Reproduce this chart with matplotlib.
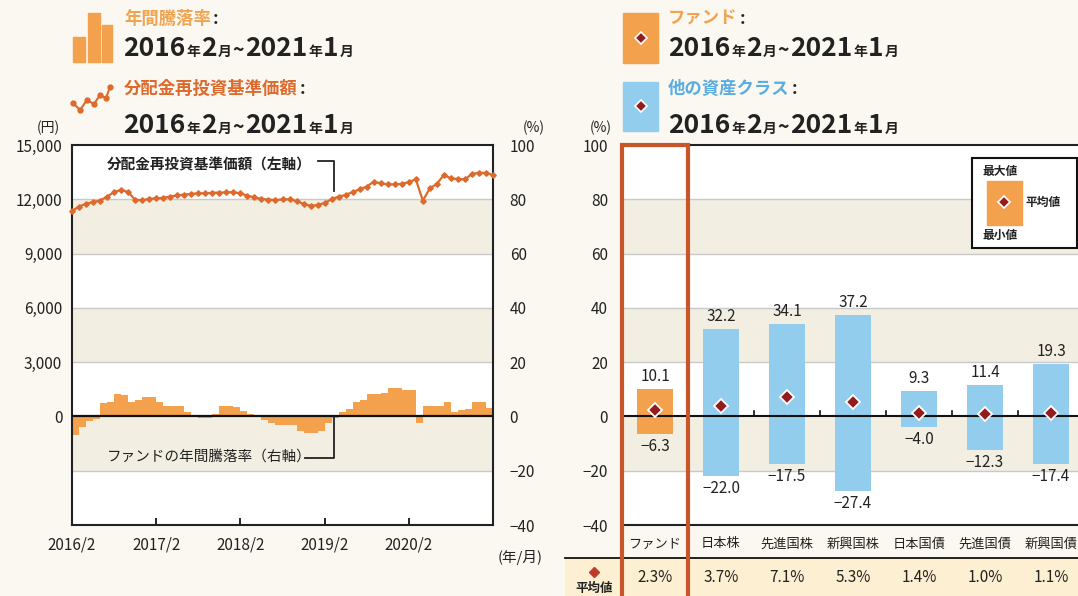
import matplotlib
matplotlib.use("Agg")
import matplotlib.pyplot as plt
from matplotlib.patches import Rectangle
from matplotlib.lines import Line2D
import numpy as np

plt.rcParams['font.family'] = ['Noto Sans CJK JP', 'DejaVu Sans']
plt.rcParams['axes.unicode_minus'] = True

# ---------------- data ----------------
# Left chart: monthly NAV (yen), 2016/1 end .. 2021/1
nav = [11350, 11600, 11750, 11850, 11930, 12150, 12400, 12520, 12400, 11970,
       11950, 12020, 12050, 12080, 12150, 12220, 12260, 12300, 12330, 12330,
       12360, 12370, 12380, 12400, 12320, 12200, 12100, 12020, 11980, 11960,
       11990, 12000, 11900, 11750, 11640, 11680, 11800, 12000, 12150, 12240,
       12400, 12550, 12700, 12970, 12880, 12830, 12820, 12850, 12950, 13100,
       11930, 12600, 12850, 13350, 13150, 13120, 13100, 13400, 13470, 13450,
       13350]
# Annual return of fund (%), monthly 2016/2 .. 2021/1
annual_ret = [-6.8, -4.0, -1.5, -0.8, 4.8, 5.2, 8.3, 7.8, 5.5, 6.2,
              7.3, 7.3, 5.5, 4.0, 4.0, 3.9, 1.8, 0.5, -0.5, -0.5,
              1.0, 4.0, 4.0, 3.5, 2.0, 1.0, 0.4, -1.2, -2.5, -3.1,
              -3.2, -3.2, -5.2, -6.2, -6.2, -5.5, -2.5, -0.6, 1.8, 2.7,
              5.2, 6.2, 8.3, 8.3, 8.5, 10.4, 10.4, 9.8, 9.8, -2.5,
              4.0, 4.0, 4.0, 5.5, 1.8, 2.5, 2.8, 5.5, 5.5, 3.0]
x_tick_labels = ["2016/2", "2017/2", "2018/2", "2019/2", "2020/2"]

# Right chart: asset classes
categories = ["ファンド", "日本株", "先進国株", "新興国株", "日本国債", "先進国債", "新興国債"]
max_vals = [10.1, 32.2, 34.1, 37.2, 9.3, 11.4, 19.3]
min_vals = [-6.3, -22.0, -17.5, -27.4, -4.0, -12.3, -17.4]
mean_vals = [2.3, 3.7, 7.1, 5.3, 1.4, 1.0, 1.1]

# ---------------- style ----------------
W, H = 1078, 596
BG = "#faf8f1"
BAND = "#f2efe2"
ORANGE = "#f3a14c"
BLUE = "#93cdee"
LINE_C = "#dd6a2c"
DIAM = "#941b1e"
FRAME = "#c9562a"
TXT = "#222222"
GRID = "#c9c9c9"

fig = plt.figure(figsize=(W / 100, H / 100), dpi=100, facecolor=BG)
renderer = fig.canvas.get_renderer()


def fx(x):
    return x / W


def fy(y):
    return 1 - y / H


def frect(x0, y0, x1, y1, **kw):
    r = Rectangle((fx(x0), fy(y1)), fx(x1) - fx(x0), fy(y0) - fy(y1),
                  transform=fig.transFigure, **kw)
    fig.patches.append(r)
    return r


def ftext(x, y, s, **kw):
    return fig.text(fx(x), fy(y), s, **kw)


def label_colon(x, y, s, color):
    t = ftext(x, y, s, fontsize=12.5, fontweight='bold', color=color,
              ha='left', va='center')
    bb = t.get_window_extent(renderer)
    ftext(x + bb.width + 2, y, ":", fontsize=12.5, fontweight='bold', color=TXT,
          ha='left', va='center')


def date_text(x, y_base):
    pieces = [("2016", 19), ("年", 10), ("2", 19), ("月", 10), ("~", 14),
              ("2021", 19), ("年", 10), ("1", 19), ("月", 10)]
    cx = x
    for s, size in pieces:
        t = ftext(cx, y_base, s, fontsize=size, fontweight='bold', color=TXT,
                  ha='left', va='baseline')
        bb = t.get_window_extent(renderer)
        cx += bb.width + 1


# ---------------- header (left) ----------------
frect(73, 37, 85, 62, color=ORANGE)
frect(88, 13, 100, 62, color=ORANGE)
frect(102, 25, 112, 62, color=ORANGE)
label_colon(124, 19, "年間騰落率", "#f0a451")
date_text(123, 56)

icon_x = [73, 80, 87, 94, 100, 106, 110]
icon_y = [103, 110, 100, 104, 95, 98, 87]
fig.lines.append(Line2D([fx(v) for v in icon_x], [fy(v) for v in icon_y],
                        transform=fig.transFigure, color=LINE_C, lw=1.5,
                        marker='o', markersize=3.5))
label_colon(124, 89, "分配金再投資基準価額", LINE_C)
date_text(123, 133)

# ---------------- header (right) ----------------
frect(623, 13, 658, 63, color=ORANGE)
fig.lines.append(Line2D([fx(640.5)], [fy(38)], transform=fig.transFigure,
                        marker='D', markersize=6.5, color=DIAM,
                        markeredgecolor='white', markeredgewidth=1.2))
label_colon(668, 19, "ファンド", "#f0a451")
date_text(668, 56)

frect(623, 82, 658, 131, color=BLUE)
fig.lines.append(Line2D([fx(640.5)], [fy(106)], transform=fig.transFigure,
                        marker='D', markersize=6.5, color=DIAM,
                        markeredgecolor='white', markeredgewidth=1.2))
label_colon(668, 89, "他の資産クラス", "#59ade2")
date_text(668, 133)

# ---------------- left chart ----------------
ax2 = fig.add_axes([fx(72), fy(525), fx(493) - fx(72), fy(145) - fy(525)])
ax2.set_facecolor('white')
ax2.set_ylim(-40, 100)
ax2.set_xlim(0, len(annual_ret))
for lo, hi in [(60, 80), (20, 40), (-20, 0)]:
    ax2.axhspan(lo, hi, color=BAND, lw=0, zorder=0)
for v in [80, 60, 40, 20, -20]:
    ax2.axhline(v, color=GRID, lw=1, zorder=0.5)
ax2.set_xticks([0, 12, 24, 36, 48])
ax2.set_xticklabels(x_tick_labels, fontsize=11, color=TXT)
ax2.tick_params(axis='x', direction='in', length=5, width=1.2, pad=8)
for s in ax2.spines.values():
    s.set_color('#222222')
    s.set_linewidth(1.5)
xs = np.arange(len(annual_ret)) + 0.5
ax2.bar(xs, annual_ret, width=1.0, color=ORANGE, lw=0, zorder=2)
ax2.axhline(0, color='#111111', lw=1.6, zorder=3)

ax = ax2.twinx()
# percent axis (ax2) on the right, yen axis (ax) on the left
ax2.yaxis.tick_right()
ax2.yaxis.set_label_position('right')
ax2.set_yticks(range(-40, 101, 20))
ax2.set_yticklabels([str(v).replace('-', '\u2212') for v in range(-40, 101, 20)],
                    fontsize=11, color=TXT)
ax2.tick_params(axis='y', length=0, pad=12)
ax.yaxis.tick_left()
ax.yaxis.set_label_position('left')
ax.set_ylim(-6000, 15000)
ax.set_yticks(range(0, 15001, 3000))
ax.set_yticklabels([f"{v:,}" for v in range(0, 15001, 3000)], fontsize=11, color=TXT)
ax.tick_params(axis='y', length=0, pad=7)
for s in ax.spines.values():
    s.set_visible(False)
xn = np.arange(len(nav)) * (len(annual_ret) / (len(nav) - 1))
ax.plot(xn, nav, color=LINE_C, lw=1.6, marker='D', markersize=2.8, zorder=4,
        clip_on=False)

ax2.text(1.01, -0.085, "(年/月)", transform=ax2.transAxes, fontsize=10.5, color=TXT,
         ha='left', va='center')
ftext(48, 128, "(円)", fontsize=10, color=TXT, ha='center', va='center')
ftext(534, 128, "(%)", fontsize=10, color=TXT, ha='center', va='center')

# annotations (left chart)
ftext(107, 164, "分配金再投資基準価額（左軸）", fontsize=10.5, fontweight='bold',
      color=TXT, ha='left', va='center')
fig.lines.append(Line2D([fx(318), fx(334), fx(334)], [fy(161), fy(161), fy(191)],
                        transform=fig.transFigure, color=TXT, lw=1.3))
ftext(107, 457, "ファンドの年間騰落率（右軸）", fontsize=10.5, color=TXT,
      ha='left', va='center')
fig.lines.append(Line2D([fx(305), fx(334), fx(334)], [fy(458), fy(458), fy(417)],
                        transform=fig.transFigure, color=TXT, lw=1.3))

# ---------------- right chart ----------------
n = len(categories)
axr = fig.add_axes([fx(622), fy(525), fx(622 + 66 * n) - fx(622), fy(145) - fy(525)])
axr.set_facecolor('white')
axr.set_ylim(-40, 100)
axr.set_xlim(-0.5, n - 0.5)
for lo, hi in [(60, 80), (20, 40), (-20, 0)]:
    axr.axhspan(lo, hi, color=BAND, lw=0, zorder=0)
for v in [80, 60, 40, 20, -20]:
    axr.axhline(v, color=GRID, lw=1, zorder=0.5)
axr.axhline(0, color='#111111', lw=1.5, zorder=3)
axr.set_yticks(range(-40, 101, 20))
axr.set_yticklabels([str(v).replace('-', '\u2212') for v in range(-40, 101, 20)],
                    fontsize=11, color=TXT)
axr.tick_params(axis='y', length=0, pad=10)
axr.set_xticks(range(n))
axr.set_xticklabels(categories, fontsize=9.5, color=TXT)
axr.tick_params(axis='x', length=0, pad=9)
for b in np.arange(0.5, n - 0.5, 1.0):
    axr.plot([b, b], [0, 2], color='#111111', lw=1.2, zorder=3)
axr.spines['left'].set_visible(False)
axr.spines['right'].set_visible(False)
axr.spines['top'].set_color('#222222')
axr.spines['top'].set_linewidth(1.5)
axr.spines['bottom'].set_color('#222222')
axr.spines['bottom'].set_linewidth(1.5)

colors = [ORANGE] + [BLUE] * (n - 1)
heights = [mx - mn for mx, mn in zip(max_vals, min_vals)]
axr.bar(range(n), heights, bottom=min_vals, width=0.54, color=colors, lw=0, zorder=2)
axr.plot(range(n), mean_vals, linestyle='none', marker='D', markersize=7.5,
         color=DIAM, markeredgecolor='white', markeredgewidth=1.3, zorder=5)
for i in range(n):
    axr.annotate(f"{max_vals[i]:.1f}", (i, max_vals[i]), xytext=(0, 3),
                 textcoords='offset points', ha='center', va='bottom',
                 fontsize=11, color=TXT)
    axr.annotate(f"{min_vals[i]:.1f}".replace('-', '\u2212'), (i, min_vals[i]),
                 xytext=(0, -3), textcoords='offset points', ha='center', va='top',
                 fontsize=11, color=TXT)

ftext(601, 128, "(%)", fontsize=10, color=TXT, ha='center', va='center')

# legend box inside right chart
frect(972, 158, 1077, 248, facecolor='white', edgecolor='#111111', lw=1.5, zorder=5)
frect(987, 181, 1022, 225, color=ORANGE, zorder=6)
fig.lines.append(Line2D([fx(1004)], [fy(202)], transform=fig.transFigure,
                        marker='D', markersize=6.5, color=DIAM,
                        markeredgecolor='white', markeredgewidth=1.2, zorder=7))
ftext(982, 172, "最大値", fontsize=8.5, fontweight='bold', color=TXT, ha='left',
      va='center', zorder=7)
ftext(1025, 202, "平均値", fontsize=8.5, fontweight='bold', color=TXT, ha='left',
      va='center', zorder=7)
ftext(982, 235, "最小値", fontsize=8.5, fontweight='bold', color=TXT, ha='left',
      va='center', zorder=7)

# average row
frect(565, 558, 1080, 600, color="#fdf0d2", lw=0, zorder=1)
fig.lines.append(Line2D([fx(565), fx(1080)], [fy(557.5), fy(557.5)],
                        transform=fig.transFigure, color='#111111', lw=1.3, zorder=2))
fig.lines.append(Line2D([fx(594)], [fy(572)], transform=fig.transFigure,
                        marker='D', markersize=5, color="#c0392b", zorder=3))
ftext(594, 588, "平均値", fontsize=9, fontweight='bold', color=TXT, ha='center',
      va='center', zorder=3)
for i in range(n):
    ftext(622 + 33 + 66 * i, 578, f"{mean_vals[i]:.1f}%", fontsize=11, color=TXT,
          ha='center', va='center', zorder=3)

# red frame around fund column
frect(622, 145, 688, 605, fill=False, edgecolor=FRAME, lw=3, zorder=8)

fig.savefig("out.png", dpi=100, facecolor=BG)
